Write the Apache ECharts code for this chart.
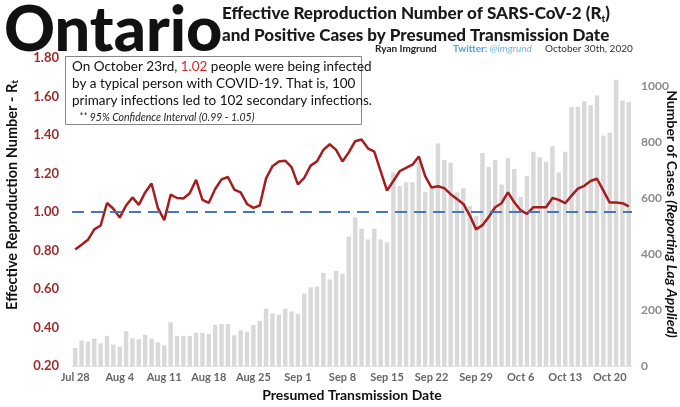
<!DOCTYPE html>
<head>
    <meta charset="UTF-8">
    <title>Ontario Rt</title>
    <script src="https://cdn.jsdelivr.net/npm/echarts@6/dist/echarts.min.js"></script>
</head>
<body style="margin:0;background:#fff;">
<div id="chart" style="width:680px;height:407px;"></div>
<script type="text/javascript">

    // presumed transmission dates, Jul 28 - Oct 23
    var dates = [
        'Jul 28', 'Jul 29', 'Jul 30', 'Jul 31', 'Aug 1', 'Aug 2', 'Aug 3',
        'Aug 4', 'Aug 5', 'Aug 6', 'Aug 7', 'Aug 8', 'Aug 9', 'Aug 10',
        'Aug 11', 'Aug 12', 'Aug 13', 'Aug 14', 'Aug 15', 'Aug 16', 'Aug 17',
        'Aug 18', 'Aug 19', 'Aug 20', 'Aug 21', 'Aug 22', 'Aug 23', 'Aug 24',
        'Aug 25', 'Aug 26', 'Aug 27', 'Aug 28', 'Aug 29', 'Aug 30', 'Aug 31',
        'Sep 1', 'Sep 2', 'Sep 3', 'Sep 4', 'Sep 5', 'Sep 6', 'Sep 7',
        'Sep 8', 'Sep 9', 'Sep 10', 'Sep 11', 'Sep 12', 'Sep 13', 'Sep 14',
        'Sep 15', 'Sep 16', 'Sep 17', 'Sep 18', 'Sep 19', 'Sep 20', 'Sep 21',
        'Sep 22', 'Sep 23', 'Sep 24', 'Sep 25', 'Sep 26', 'Sep 27', 'Sep 28',
        'Sep 29', 'Sep 30', 'Oct 1', 'Oct 2', 'Oct 3', 'Oct 4', 'Oct 5',
        'Oct 6', 'Oct 7', 'Oct 8', 'Oct 9', 'Oct 10', 'Oct 11', 'Oct 12',
        'Oct 13', 'Oct 14', 'Oct 15', 'Oct 16', 'Oct 17', 'Oct 18', 'Oct 19',
        'Oct 20', 'Oct 21', 'Oct 22', 'Oct 23'
    ];

    // daily positive cases (reporting lag applied)
    var cases = [
        65, 91, 87, 98, 81, 108, 77,
        70, 125, 99, 96, 112, 98, 85,
        74, 156, 108, 108, 108, 119, 119,
        115, 147, 150, 150, 110, 128, 123,
        147, 161, 205, 188, 184, 205, 195,
        187, 259, 281, 284, 333, 309, 340,
        330, 463, 531, 490, 452, 490, 452,
        442, 691, 643, 656, 656, 730, 621,
        633, 795, 736, 726, 621, 635, 572,
        536, 761, 711, 736, 648, 742, 704,
        604, 679, 765, 746, 730, 785, 691,
        765, 924, 926, 946, 931, 966, 823,
        833, 1022, 948, 943
    ];

    // effective reproduction number
    var rt = [
        0.805, 0.830, 0.856, 0.910, 0.930, 1.047, 1.017,
        0.971, 1.034, 1.076, 1.037, 1.102, 1.148, 1.020,
        0.958, 1.090, 1.073, 1.070, 1.098, 1.167, 1.063,
        1.048, 1.120, 1.170, 1.182, 1.117, 1.102, 1.042,
        1.022, 1.034, 1.175, 1.238, 1.263, 1.267, 1.233,
        1.144, 1.178, 1.241, 1.263, 1.323, 1.352, 1.323,
        1.263, 1.310, 1.368, 1.377, 1.331, 1.314, 1.212,
        1.111, 1.161, 1.212, 1.229, 1.246, 1.289, 1.187,
        1.127, 1.134, 1.124, 1.093, 1.068, 1.042, 0.983,
        0.910, 0.932, 0.975, 1.025, 1.046, 1.102, 1.051,
        1.009, 0.991, 1.025, 1.025, 1.025, 1.073, 1.063,
        1.046, 1.085, 1.122, 1.136, 1.161, 1.173, 1.111,
        1.049, 1.049, 1.046, 1.029
    ];

    var FONT = 'Lato, "Open Sans", sans-serif';
    var RED = '#a51d1f';

    var myChart = echarts.init(document.getElementById('chart'));

    myChart.setOption({
        animation: false,
        textStyle: {fontFamily: FONT},
        grid: {left: 72, right: 48, top: 58, bottom: 35},
        xAxis: {
            type: 'category',
            data: dates,
            axisLine: {lineStyle: {color: '#e2e2e2'}},
            axisTick: {interval: 6, length: 4, lineStyle: {color: '#cfcfcf'}},
            axisLabel: {
                interval: 6, color: '#666', fontWeight: 'bold', fontSize: 11,
                fontFamily: FONT, margin: 6
            },
            name: 'Presumed Transmission Date',
            nameLocation: 'middle',
            nameGap: 21,
            nameTextStyle: {color: '#111', fontWeight: 'bold', fontSize: 14, fontFamily: FONT}
        },
        yAxis: [
            {
                type: 'value',
                min: 0.2, max: 1.8, interval: 0.2,
                splitLine: {show: false},
                axisLine: {show: false},
                axisTick: {show: false},
                axisLabel: {
                    color: '#9e2a2b', fontWeight: 'bold', fontSize: 13, fontFamily: FONT,
                    margin: 13,
                    formatter: function (v) { return v.toFixed(2); }
                }
            },
            {
                type: 'value',
                min: 0, max: 1100, interval: 200,
                splitLine: {show: false},
                axisLine: {show: false},
                axisTick: {show: false},
                axisLabel: {
                    color: '#8c8c8c', fontWeight: 'bold', fontSize: 12, fontFamily: FONT,
                    margin: 9, showMaxLabel: false,
                    formatter: function (v) { return String(v); }
                }
            }
        ],
        series: [
            {
                name: 'Cases',
                type: 'bar',
                yAxisIndex: 1,
                data: cases,
                barCategoryGap: '30%',
                itemStyle: {color: '#d9d9d9'},
                z: 1
            },
            {
                name: 'Rt',
                type: 'line',
                yAxisIndex: 0,
                data: rt,
                showSymbol: false,
                lineStyle: {color: RED, width: 2.5},
                z: 3,
                markLine: {
                    silent: true,
                    symbol: ['none', 'none'],
                    label: {show: false},
                    lineStyle: {color: '#4a77b4', width: 2, type: [12, 7]},
                    data: [{yAxis: 1}]
                }
            }
        ],
        graphic: [
            {
                type: 'text', x: 4, y: -1,
                style: {text: 'Ontario', font: '900 63px ' + FONT, fill: '#111', textVerticalAlign: 'top'}
            },
            {
                type: 'text', x: 222, y: 5,
                style: {
                    text: '{a|Effective Reproduction Number of SARS-CoV-2 (R}{s|t}{a|)}',
                    rich: {
                        a: {font: '900 17px ' + FONT, fill: '#1a1a1a'},
                        s: {font: '900 10px ' + FONT, fill: '#1a1a1a', verticalAlign: 'bottom', padding: [0, 0, -2, 0]}
                    }
                }
            },
            {
                type: 'text', x: 222, y: 27,
                style: {text: 'and Positive Cases by Presumed Transmission Date', font: '900 17px ' + FONT, fill: '#1a1a1a'}
            },
            {
                type: 'text', x: 375, y: 44,
                style: {text: 'Ryan Imgrund', font: 'bold 10px ' + FONT, fill: '#222'}
            },
            {
                type: 'text', x: 453, y: 44,
                style: {
                    text: '{a|Twitter: }{b|@imgrund}',
                    rich: {
                        a: {font: 'bold 10px ' + FONT, fill: '#4aa8e0'},
                        b: {font: 'italic 10px ' + FONT, fill: '#6cb8e6'}
                    }
                }
            },
            {
                type: 'text', x: 545, y: 44,
                style: {text: 'October 30th, 2020', font: '10px ' + FONT, fill: '#333'}
            },
            {
                type: 'rect', z: 10,
                shape: {x: 65.5, y: 56.5, width: 296, height: 68},
                style: {fill: '#fff', stroke: '#888', lineWidth: 1}
            },
            {
                type: 'text', z: 11, x: 72, y: 60,
                style: {
                    text: '{a|On October 23rd, }{r|1.02}{a| people were being infected}',
                    rich: {
                        a: {font: '13.5px ' + FONT, fill: '#111'},
                        r: {font: '13.5px ' + FONT, fill: '#d42a2a'}
                    }
                }
            },
            {
                type: 'text', z: 11, x: 72, y: 77,
                style: {text: 'by a typical person with COVID-19. That is, 100', font: '13.5px ' + FONT, fill: '#111'}
            },
            {
                type: 'text', z: 11, x: 72, y: 94,
                style: {text: 'primary infections led to 102 secondary infections.', font: '13.5px ' + FONT, fill: '#111'}
            },
            {
                type: 'text', z: 11, x: 79, y: 112,
                style: {text: '** 95% Confidence Interval (0.99 - 1.05)', font: 'italic 10.5px ' + FONT, fill: '#222'}
            },
            {
                type: 'text', x: 12, y: 195, rotation: Math.PI / 2,
                style: {
                    text: '{a|Effective Reproduction Number - R}{s|t}',
                    align: 'center', verticalAlign: 'middle',
                    rich: {
                        a: {font: 'bold 14.5px ' + FONT, fill: '#111'},
                        s: {font: 'bold 10px ' + FONT, fill: '#111', verticalAlign: 'bottom'}
                    }
                }
            },
            {
                type: 'text', x: 672, y: 214, rotation: -Math.PI / 2,
                style: {
                    text: '{a|Number of Cases }{i|(Reporting Lag Applied)}',
                    align: 'center', verticalAlign: 'middle',
                    rich: {
                        a: {font: 'bold 14px ' + FONT, fill: '#111'},
                        i: {font: 'italic bold 14px ' + FONT, fill: '#111'}
                    }
                }
            }
        ]
    });
</script>
</body>
</html>
